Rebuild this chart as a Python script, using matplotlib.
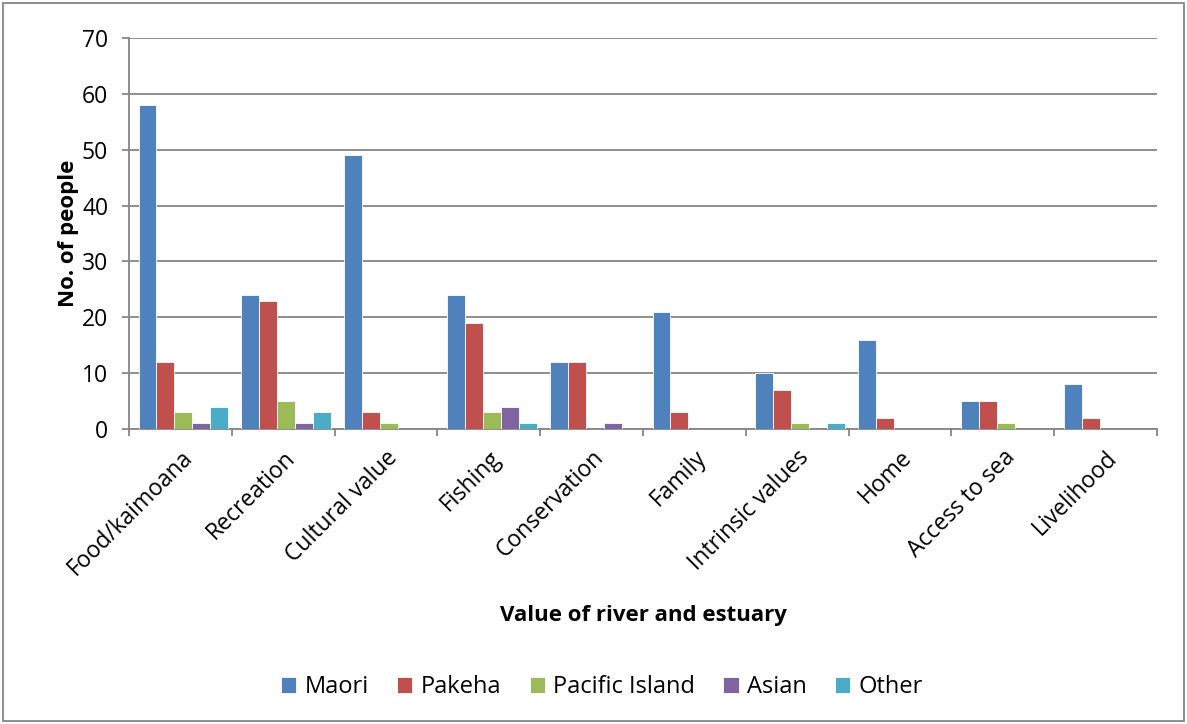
import matplotlib
matplotlib.use("Agg")
import matplotlib.pyplot as plt
import numpy as np
from matplotlib.patches import Rectangle

plt.rcParams['font.family'] = ['Open Sans', 'DejaVu Sans']

categories = ["Food/kaimoana", "Recreation", "Cultural value", "Fishing", "Conservation",
              "Family", "Intrinsic values", "Home", "Access to sea", "Livelihood"]
series_names = ["Maori", "Pakeha", "Pacific Island", "Asian", "Other"]
maori = [58, 24, 49, 24, 12, 21, 10, 16, 5, 8]
pakeha = [12, 23, 3, 19, 12, 3, 7, 2, 5, 2]
pacific = [3, 5, 1, 3, 0, 0, 1, 0, 1, 0]
asian = [1, 1, 0, 4, 1, 0, 0, 0, 0, 0]
other = [4, 3, 0, 1, 0, 0, 1, 0, 0, 0]
colors = ["#4F81BD", "#C0504D", "#9BBB59", "#8064A2", "#4BACC6"]
yticks = [0, 10, 20, 30, 40, 50, 60, 70]

fig = plt.figure(figsize=(11.87, 7.24), dpi=100)
ax = fig.add_axes([129/1187, 1-429/724, (1157-129)/1187, (429-38)/724])

x = np.arange(len(categories))
w = 0.175
for i, (vals, name) in enumerate(zip([maori, pakeha, pacific, asian, other], series_names)):
    ax.bar(x + (i - 2) * w + 0.03, vals, width=w, color=colors[i], label=name,
           edgecolor='white', linewidth=0.6, zorder=3)

ax.set_xlim(-0.5, len(categories) - 0.5)
ax.set_ylim(0, 70)
ax.set_yticks(yticks)
ax.yaxis.grid(True, color='#868686', linewidth=1.3, zorder=0)
ax.set_axisbelow(True)
for s in ['top', 'right']:
    ax.spines[s].set_visible(False)
for s in ['left', 'bottom']:
    ax.spines[s].set_color('#868686')
    ax.spines[s].set_linewidth(1.3)
ax.tick_params(axis='y', labelsize=16.5, length=5, color='#868686', width=1.3, pad=10)
ax.set_xticks(x)
ax.set_xticklabels(categories, rotation=45, ha='right', rotation_mode='anchor', fontsize=16.5)
ax.tick_params(axis='x', length=0, pad=12)
ax.set_xticks(np.arange(len(categories) + 1) - 0.5, minor=True)
ax.tick_params(axis='x', which='minor', length=5, color='#868686', width=1.3)

ax.set_ylabel("No. of people", fontsize=16, fontweight='bold', labelpad=2)
fig.text(643/1187, 1-615/724, "Value of river and estuary", ha='center', va='center',
         fontsize=16, fontweight='bold')

handles, labels = ax.get_legend_handles_labels()
fig.legend(handles, labels, loc='center', bbox_to_anchor=(602/1187, 1-687/724), ncol=5,
           frameon=False, fontsize=17, handlelength=0.65, handleheight=0.65,
           handletextpad=0.35, columnspacing=1.2)

fig.patches.append(Rectangle((3/1187, 3/724), 1-6/1187, 1-6/724, transform=fig.transFigure,
                             fill=False, edgecolor='#868686', linewidth=1.3))

fig.savefig("out.png", dpi=100)
